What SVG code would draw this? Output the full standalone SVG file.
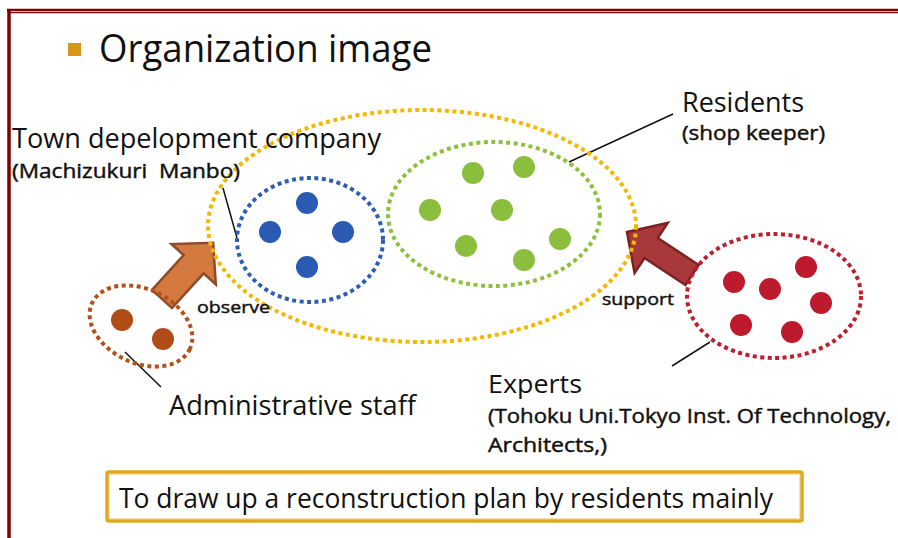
<svg xmlns="http://www.w3.org/2000/svg" width="898" height="538" viewBox="0 0 898 538">
<style>
.t{font-family:"Open Sans","Noto Sans","Liberation Sans",sans-serif;fill:#111}
.s{font-weight:normal;stroke:#111;stroke-width:0.45}
.dot{stroke-width:4;stroke-dasharray:4 3.5;fill:none}
.lead{stroke:#111;stroke-width:1.5;fill:none}
</style>
<rect width="898" height="538" fill="#fff"/>
<g id="frame">
<line x1="7" y1="10" x2="898" y2="10" stroke="#7f0000" stroke-width="2.5"/>
<line x1="10" y1="12.7" x2="898" y2="12.7" stroke="#7f0000" stroke-width="1.2"/>
<line x1="9" y1="9" x2="9" y2="538" stroke="#7f0000" stroke-width="3.5"/>
</g>
<g id="title">
<rect x="68" y="43" width="13" height="13" fill="#D99517"/>
<text class="t" x="99" y="62" font-size="38" textLength="333" lengthAdjust="spacingAndGlyphs">Organization image</text>
</g>
<g id="connectors">
<line class="lead" x1="223" y1="188" x2="237" y2="238"/>
<line class="lead" x1="673" y1="114" x2="569" y2="162"/>
<line class="lead" x1="710" y1="342" x2="672" y2="366"/>
<line class="lead" x1="125" y1="352" x2="161" y2="387"/>
<path d="M0,-13.5 L47,-13.5 L47,-30 L76,0 L47,30 L47,13.5 L0,13.5 Z" transform="translate(162,299) rotate(-47.7)" fill="#D4793F" stroke="#8E4B28" stroke-width="2.5" stroke-linejoin="miter"/>
<path d="M0,-12 L49,-12 L49,-30 L78,0 L49,30 L49,12 L0,12 Z" transform="translate(692,275) rotate(-146.5)" fill="#A8383A" stroke="#7B2222" stroke-width="2.5"/>
</g>
<g id="town-group">
<ellipse class="dot" cx="422" cy="226" rx="214" ry="116" stroke="#F5B800"/>
</g>
<g id="town-company">
<ellipse class="dot" cx="310" cy="240" rx="73" ry="62" stroke="#2E5DB5"/>
<g fill="#2B5AB3">
<circle cx="307" cy="203" r="11"/><circle cx="270" cy="232" r="11"/><circle cx="343" cy="232" r="11"/><circle cx="307" cy="267" r="11"/>
</g>
<text class="t" x="12" y="148" font-size="28" textLength="369" lengthAdjust="spacingAndGlyphs">Town depelopment company</text>
<text class="t s" x="12" y="178" font-size="20" textLength="228" lengthAdjust="spacingAndGlyphs" xml:space="preserve">(Machizukuri  Manbo)</text>
</g>
<g id="residents">
<ellipse class="dot" cx="494" cy="214" rx="106" ry="72" stroke="#8DC13C"/>
<g fill="#8BBE3C">
<circle cx="430" cy="210" r="11"/><circle cx="473" cy="173" r="11"/><circle cx="524" cy="167" r="11"/><circle cx="502" cy="210" r="11"/><circle cx="466" cy="246" r="11"/><circle cx="560" cy="239" r="11"/><circle cx="524" cy="260" r="11"/>
</g>
<text class="t" x="682" y="112" font-size="28" textLength="122" lengthAdjust="spacingAndGlyphs">Residents</text>
<text class="t s" x="682" y="140" font-size="20" textLength="143" lengthAdjust="spacingAndGlyphs">(shop keeper)</text>
</g>
<g id="experts">
<ellipse class="dot" cx="774" cy="296" rx="87" ry="62" stroke="#BE1E2D"/>
<g fill="#BE1A2E">
<circle cx="734" cy="282" r="11"/><circle cx="770" cy="289" r="11"/><circle cx="806" cy="267" r="11"/><circle cx="821" cy="303" r="11"/><circle cx="741" cy="325" r="11"/><circle cx="792" cy="332" r="11"/>
</g>
<text class="t" x="488" y="393" font-size="26" textLength="94" lengthAdjust="spacingAndGlyphs">Experts</text>
<text class="t s" x="488" y="423" font-size="20" textLength="403" lengthAdjust="spacingAndGlyphs">(Tohoku Uni.Tokyo Inst. Of Technology,</text>
<text class="t s" x="488" y="452" font-size="20" textLength="119" lengthAdjust="spacingAndGlyphs">Architects,)</text>
</g>
<g id="admin-staff">
<ellipse class="dot" cx="141" cy="326" rx="54" ry="37" transform="rotate(25 141 326)" stroke="#B5501A"/>
<g fill="#B04C18">
<circle cx="122" cy="320" r="11"/><circle cx="163" cy="339" r="11"/>
</g>
<text class="t" x="169" y="415" font-size="28" textLength="247" lengthAdjust="spacingAndGlyphs">Administrative staff</text>
</g>
<g id="labels">
<text class="t s" x="197" y="313" font-size="17" textLength="73" lengthAdjust="spacingAndGlyphs">observe</text>
<text class="t s" x="602" y="305" font-size="17" textLength="72" lengthAdjust="spacingAndGlyphs">support</text>
</g>
<g id="goal-box">
<rect x="107" y="472" width="695" height="49" fill="#fff" stroke="#E0A820" stroke-width="3.5" rx="2"/>
<rect x="109.5" y="474.5" width="690" height="44" fill="none" stroke="#F6E2A6" stroke-width="1"/>
<text class="t" x="119" y="508" font-size="27" textLength="654" lengthAdjust="spacingAndGlyphs">To draw up a reconstruction plan by residents mainly</text>
</g>
</svg>
